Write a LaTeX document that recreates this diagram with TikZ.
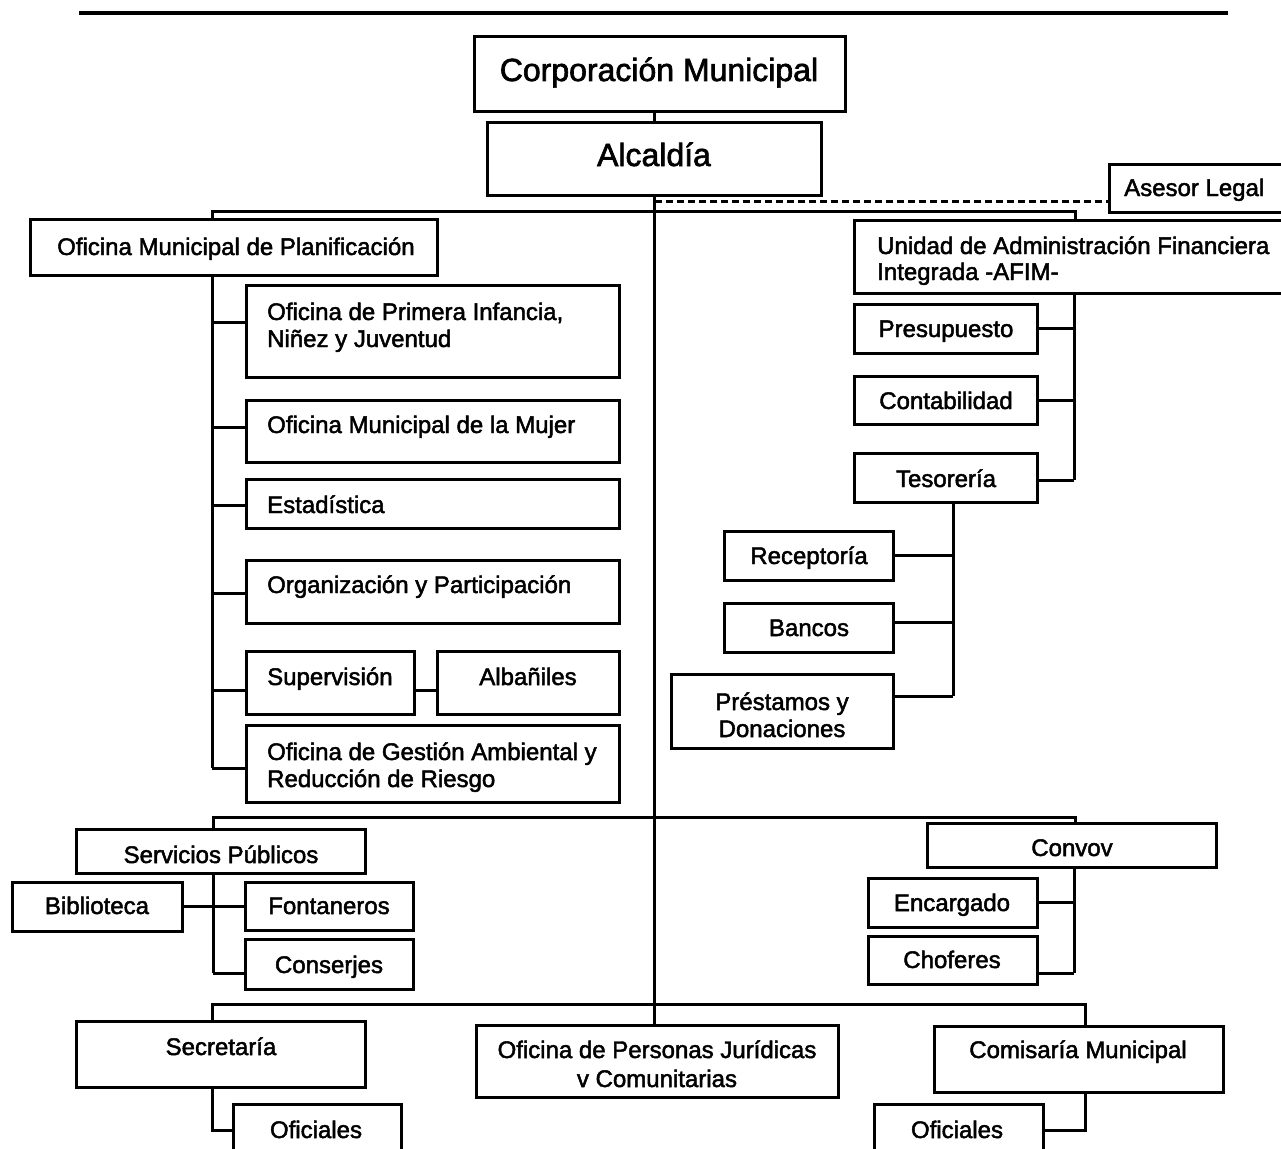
\documentclass[tikz,border=0pt]{standalone}
\usepackage{fontspec}
\setmainfont{Liberation Sans}[FakeBold=2]
\newcommand\mybox[5]{\node[box, minimum width={(#4-#2)*1pt}, minimum height={(#5-#3)*1pt}] (#1) at ({(#2+#4)/2},{(#3+#5)/2}) {};}
\newcommand\mytext[5]{\node[txt, anchor=#2] (#1) at (#3,#4) {#5};}
\begin{document}
\begin{tikzpicture}[x=1pt,y=-1pt,
  box/.style={draw, line width=3pt, rectangle, inner sep=0pt, outer sep=0pt},
  txt/.style={inner sep=0pt, font=\fontsize{24}{27}\selectfont},
  bigtxt/.style={inner sep=0pt, font=\fontsize{32}{36}\selectfont},
  conn/.style={line width=3pt},
  dashconn/.style={line width=3pt, dash pattern=on 7pt off 4pt},
  rule/.style={line width=4pt}]
\useasboundingbox (0,0) rectangle (1281,1148);

% top rule
\coordinate (r1) at (79,13);
\coordinate (r2) at (1228,13);
\draw[rule] (r1) -- (r2);

% boxes
\mybox{corp}{474}{37}{845}{111}
\mybox{alc}{487}{122}{821}{195}
\mybox{ases}{1109}{164}{1292}{212}
\mybox{omp}{30}{219}{437}{275}
\mybox{uafi}{854}{220}{1292}{293}
\mybox{pi}{246}{285}{619}{377}
\mybox{mujer}{246}{400}{619}{462}
\mybox{estad}{246}{479}{619}{528}
\mybox{org}{246}{560}{619}{623}
\mybox{sup}{246}{651}{414}{714}
\mybox{alb}{437}{651}{619}{714}
\mybox{gest}{246}{725}{619}{802}
\mybox{pres}{854}{304}{1037}{353}
\mybox{cont}{854}{376}{1037}{424}
\mybox{teso}{854}{453}{1037}{502}
\mybox{recep}{724}{531}{893}{580}
\mybox{bancos}{724}{603}{893}{652}
\mybox{prest}{671}{674}{893}{748}
\mybox{serv}{76}{829}{365}{873}
\mybox{biblio}{12}{882}{182}{931}
\mybox{font}{245}{882}{413}{930}
\mybox{consj}{245}{939}{413}{989}
\mybox{convoy}{927}{823}{1216}{867}
\mybox{encarg}{868}{878}{1037}{927}
\mybox{chof}{868}{936}{1037}{984}
\mybox{secr}{76}{1021}{365}{1087}
\mybox{ofic1}{233}{1104}{401}{1165}
\mybox{pers}{476}{1025}{838}{1097}
\mybox{comis}{934}{1026}{1223}{1092}
\mybox{ofic2}{874}{1104}{1043}{1165}

% texts
\node[bigtxt, anchor=base] (corp-t) at (659,81) {Corporación Municipal};
\node[bigtxt, anchor=base] (alc-t) at (654,166) {Alcaldía};
\mytext{ases-t}{base west}{1124}{196}{Asesor Legal}
\mytext{omp-t}{base west}{57}{255}{Oficina Municipal de Planificación}
\mytext{uafi-t1}{base west}{877}{254}{Unidad de Administración Financiera}
\mytext{uafi-t2}{base west}{877}{280}{Integrada -AFIM-}
\mytext{pi-t1}{base west}{267}{320}{Oficina de Primera Infancia,}
\mytext{pi-t2}{base west}{267}{347}{Niñez y Juventud}
\mytext{mujer-t}{base west}{267}{433}{Oficina Municipal de la Mujer}
\mytext{estad-t}{base west}{267}{513}{Estadística}
\mytext{org-t}{base west}{267}{593}{Organización y Participación}
\mytext{sup-t}{base west}{267}{685}{Supervisión}
\mytext{alb-t}{base}{528}{685}{Albañiles}
\mytext{gest-t1}{base west}{267}{760}{Oficina de Gestión Ambiental y}
\mytext{gest-t2}{base west}{267}{787}{Reducción de Riesgo}
\mytext{pres-t}{base}{946}{337}{Presupuesto}
\mytext{cont-t}{base}{946}{409}{Contabilidad}
\mytext{teso-t}{base}{946}{487}{Tesorería}
\mytext{recep-t}{base}{809}{564}{Receptoría}
\mytext{bancos-t}{base}{809}{636}{Bancos}
\mytext{prest-t1}{base}{782}{710}{Préstamos y}
\mytext{prest-t2}{base}{782}{737}{Donaciones}
\mytext{serv-t}{base}{221}{863}{Servicios Públicos}
\mytext{biblio-t}{base}{97}{914}{Biblioteca}
\mytext{font-t}{base}{329}{914}{Fontaneros}
\mytext{consj-t}{base}{329}{973}{Conserjes}
\mytext{convoy-t}{base}{1072}{856}{Convov}
\mytext{encarg-t}{base}{952}{911}{Encargado}
\mytext{chof-t}{base}{952}{968}{Choferes}
\mytext{secr-t}{base}{221}{1055}{Secretaría}
\mytext{ofic1-t}{base}{316}{1138}{Oficiales}
\mytext{pers-t1}{base}{657}{1058}{Oficina de Personas Jurídicas}
\mytext{pers-t2}{base}{657}{1087}{v Comunitarias}
\mytext{comis-t}{base}{1078}{1058}{Comisaría Municipal}
\mytext{ofic2-t}{base}{957}{1138}{Oficiales}

% connectors
\draw[conn] (alc.north) -- (alc.north |- corp.south);
\draw[conn] (alc.south) -- (alc.south |- pers.north);
\coordinate (ds) at (655,201);
\draw[dashconn] (ds) -- (ds -| ases.west);

\coordinate (tb1) at (212,211);
\coordinate (tb2) at (1075,211);
\draw[conn] (tb1 |- omp.north) -- (tb1) -- (tb2) -- (tb2 |- uafi.north);

\coordinate (bpi) at (212,322);
\coordinate (bmu) at (212,427);
\coordinate (bes) at (212,505);
\coordinate (bor) at (212,593);
\coordinate (bsu) at (212,690);
\coordinate (bge) at (212,768);
\draw[conn] (bpi |- omp.south) -- (bge);
\draw[conn] (bpi) -- (bpi -| pi.west);
\draw[conn] (bmu) -- (bmu -| mujer.west);
\draw[conn] (bes) -- (bes -| estad.west);
\draw[conn] (bor) -- (bor -| org.west);
\draw[conn] (bsu) -- (bsu -| sup.west);
\draw[conn] (bge) -- (bge -| gest.west);
\draw[conn] (bsu -| sup.east) -- (bsu -| alb.west);

\coordinate (bpr) at (1074,328);
\coordinate (bco) at (1074,400);
\coordinate (bte) at (1074,480);
\draw[conn] (bpr |- uafi.south) -- (bte);
\draw[conn] (bpr) -- (bpr -| pres.east);
\draw[conn] (bco) -- (bco -| cont.east);
\draw[conn] (bte) -- (bte -| teso.east);

\coordinate (brc) at (953,555);
\coordinate (bba) at (953,622);
\coordinate (bps) at (953,696);
\draw[conn] (brc |- teso.south) -- (bps);
\draw[conn] (brc) -- (brc -| recep.east);
\draw[conn] (bba) -- (bba -| bancos.east);
\draw[conn] (bps) -- (bps -| prest.east);

\coordinate (mb1) at (213,817);
\coordinate (mb2) at (1075,817);
\draw[conn] (mb1 |- serv.north) -- (mb1) -- (mb2) -- (mb2 |- convoy.north);
\coordinate (bfo) at (213,906);
\coordinate (bcs) at (213,973);
\draw[conn] (bfo |- serv.south) -- (bcs);
\draw[conn] (bcs) -- (bcs -| consj.west);
\draw[conn] (bfo -| biblio.east) -- (bfo -| font.west);

\coordinate (ben) at (1074,902);
\coordinate (bch) at (1074,973);
\draw[conn] (ben |- convoy.south) -- (bch);
\draw[conn] (ben) -- (ben -| encarg.east);
\draw[conn] (bch) -- (bch -| chof.east);

\coordinate (lb1) at (212,1004);
\coordinate (lb2) at (1085,1004);
\draw[conn] (lb1 |- secr.north) -- (lb1) -- (lb2) -- (lb2 |- comis.north);
\coordinate (bo1) at (212,1130);
\draw[conn] (bo1 |- secr.south) -- (bo1) -- (bo1 -| ofic1.west);
\coordinate (bo2) at (1085,1130);
\draw[conn] (bo2 |- comis.south) -- (bo2) -- (bo2 -| ofic2.east);
\end{tikzpicture}
\end{document}
